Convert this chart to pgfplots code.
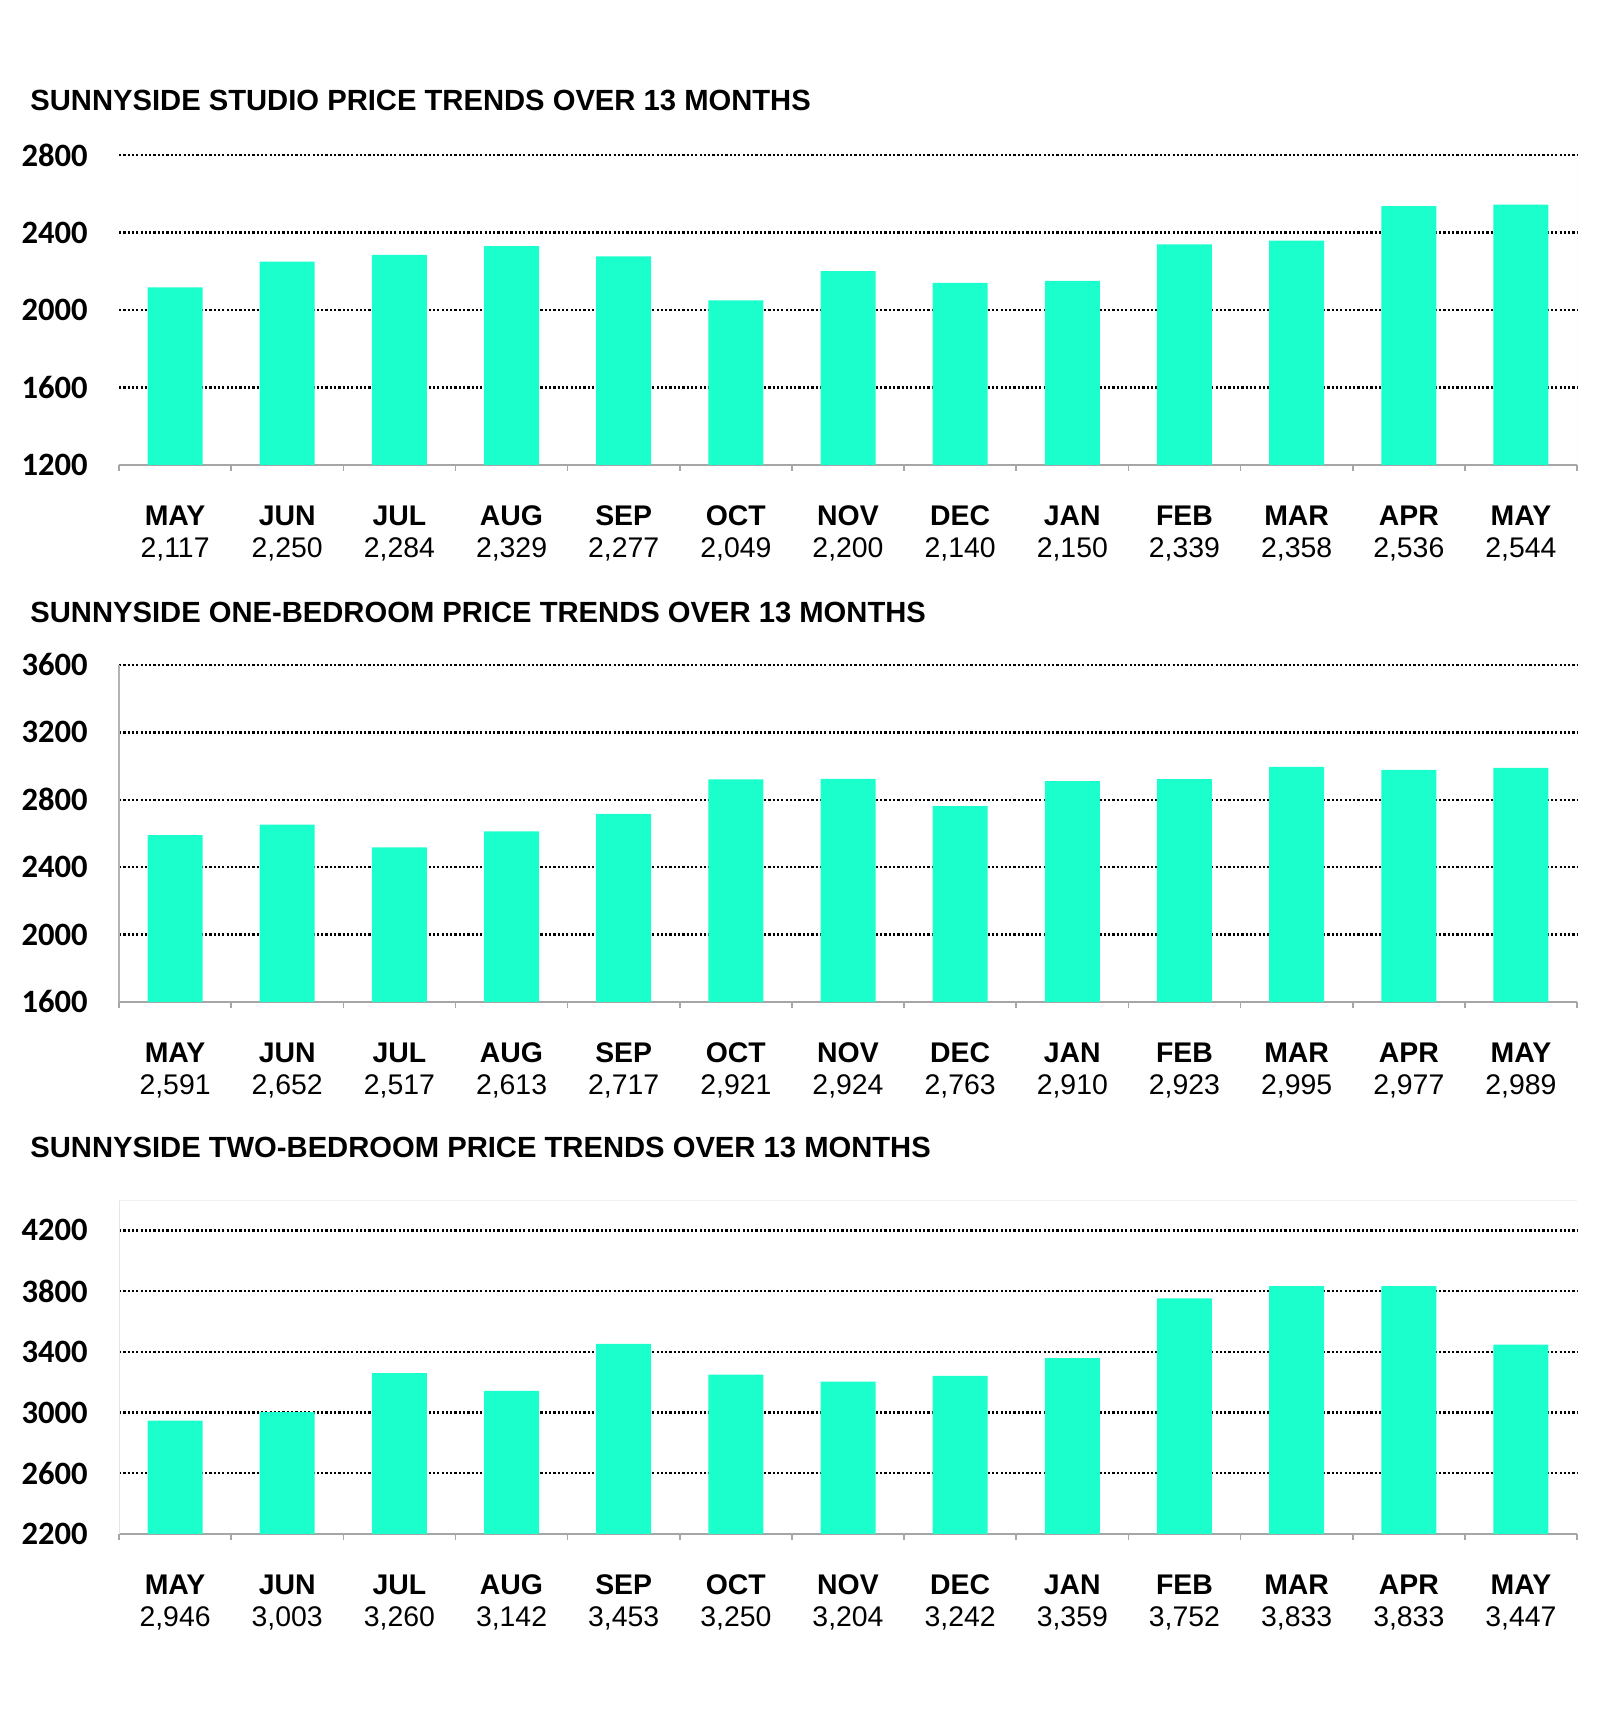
\documentclass[border=0pt]{standalone}
\usepackage{fontspec}
\setmainfont{Liberation Sans}
\newfontfamily\calib{Carlito}
\usepackage{pgfplots}
\usepackage{pgfplotstable}
\pgfplotsset{compat=1.18}
\definecolor{mint}{RGB}{27,255,204}

\pgfkeys{/pgf/number format/.cd, fixed, precision=0, 1000 sep={,}, assume math mode=true}

% monthly average asking rents
\pgfplotstableread{
x m v
0 MAY 2117
1 JUN 2250
2 JUL 2284
3 AUG 2329
4 SEP 2277
5 OCT 2049
6 NOV 2200
7 DEC 2140
8 JAN 2150
9 FEB 2339
10 MAR 2358
11 APR 2536
12 MAY 2544
}\studio

\pgfplotstableread{
x m v
0 MAY 2591
1 JUN 2652
2 JUL 2517
3 AUG 2613
4 SEP 2717
5 OCT 2921
6 NOV 2924
7 DEC 2763
8 JAN 2910
9 FEB 2923
10 MAR 2995
11 APR 2977
12 MAY 2989
}\onebed

\pgfplotstableread{
x m v
0 MAY 2946
1 JUN 3003
2 JUL 3260
3 AUG 3142
4 SEP 3453
5 OCT 3250
6 NOV 3204
7 DEC 3242
8 JAN 3359
9 FEB 3752
10 MAR 3833
11 APR 3833
12 MAY 3447
}\twobed

% month name (bold) over the rent value, both taken from the table row
\newcommand\monthlabel[1]{%
  \pgfplotstablegetelem{\ticknum}{m}\of#1\strut\textbf{\pgfplotsretval}\\%
  \pgfplotstablegetelem{\ticknum}{v}\of#1\pgfmathprintnumber{\pgfplotsretval}}

\pgfplotsset{
  rentchart/.style={
    scale only axis, width=729pt, anchor=south west,
    xmin=-0.5, xmax=12.5,
    axis x line*=bottom, axis y line*=left,
    x axis line style={-, draw=black!35, line width=1pt},
    xtick={0,...,12},
    minor xtick={-0.5,0.5,...,12.5},
    tick align=outside,
    major tick length=0pt,
    minor tick length=3pt,
    minor tick style={draw=black!35, line width=0.8pt},
    ymajorgrids,
    major grid style={black, line width=1.2pt, dash pattern=on 1.1pt off 1.05pt},
    extra tick style={grid=none},
    yticklabel style={font=\calib\bfseries\fontsize{16.3}{16}\selectfont,
      anchor=east, inner sep=0pt, xshift=-15.5pt,
      /pgf/number format/1000 sep={}},
    xticklabel style={anchor=north, align=center, inner sep=0pt,
      yshift=-18.9pt, font=\fontsize{14.2}{16}\selectfont},
    xticklabel={\monthlabel{#1}},
    ybar, bar width=27.5pt,
  }
}

\begin{document}
\begin{tikzpicture}
\path[use as bounding box] (0,0) rectangle (800pt,866pt);

\tikzset{charttitle/.style={anchor=west, inner sep=0pt,
  font=\bfseries\fontsize{14.6}{16}\selectfont}}

\node[charttitle] at (15pt,816pt) {SUNNYSIDE STUDIO PRICE TRENDS OVER 13 MONTHS};
\node[charttitle] at (15pt,560pt) {SUNNYSIDE ONE-BEDROOM PRICE TRENDS OVER 13 MONTHS};
\node[charttitle] at (15pt,292.5pt) {SUNNYSIDE TWO-BEDROOM PRICE TRENDS OVER 13 MONTHS};

% studio
\begin{axis}[rentchart=\studio, at={(59.5pt,633.5pt)}, height=155pt,
  ymin=1200, ymax=2800, ytick={1600,2000,2400,2800}, extra y ticks={1200},
  y axis line style={draw=none}]
  \addplot[fill=mint, draw=none] table[x=x, y=v] {\studio};
  \draw[black!8] (rel axis cs:1,0) -- (rel axis cs:1,1);
\end{axis}

% one-bedroom
\begin{axis}[rentchart=\onebed, at={(59.5pt,365pt)}, height=168.5pt,
  ymin=1600, ymax=3600, ytick={2000,2400,2800,3200,3600}, extra y ticks={1600},
  y axis line style={-, draw=black!30, line width=0.6pt}]
  \addplot[fill=mint, draw=none] table[x=x, y=v] {\onebed};
\end{axis}

% two-bedroom
\begin{axis}[rentchart=\twobed, at={(59.5pt,99pt)}, height=167pt,
  ymin=2200, ymax=4400, ytick={2600,3000,3400,3800,4200}, extra y ticks={2200},
  y axis line style={-, draw=black!10, line width=0.5pt}]
  \addplot[fill=mint, draw=none] table[x=x, y=v] {\twobed};
  \draw[black!6] (rel axis cs:0,1) -- (rel axis cs:1,1) -- (rel axis cs:1,0);
\end{axis}
\end{tikzpicture}
\end{document}
